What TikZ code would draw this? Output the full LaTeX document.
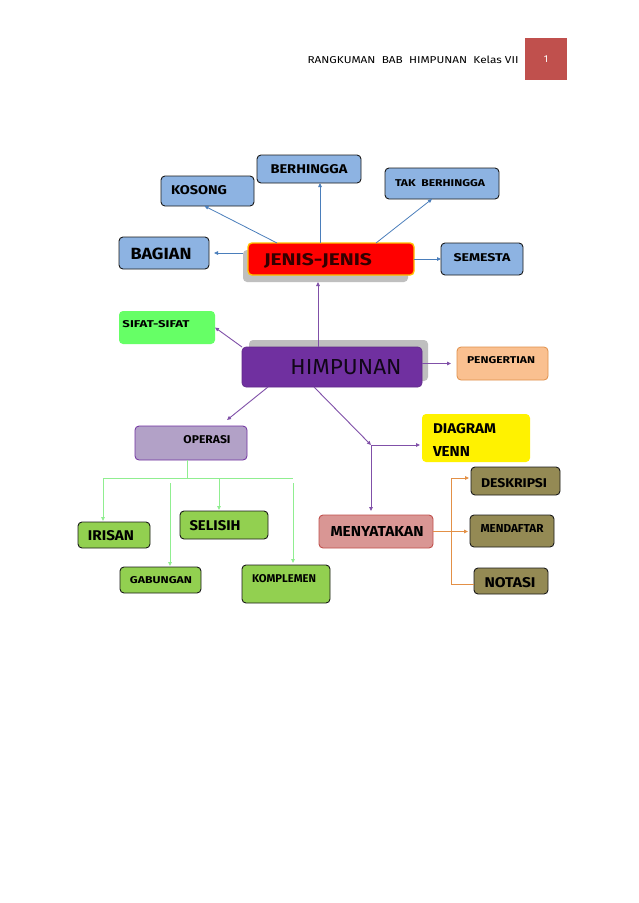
\documentclass[tikz,border=0pt]{standalone}
\usepackage{fontspec}
\setmainfont{Fira Sans}
\usetikzlibrary{arrows.meta}
\definecolor{bluebox}{HTML}{8DB3E2}
\definecolor{blueline}{HTML}{4A7EBB}
\definecolor{purpline}{HTML}{8050A8}
\definecolor{himpfill}{HTML}{7030A0}
\definecolor{shadowgray}{HTML}{BFBFBF}
\definecolor{jenisborder}{HTML}{FFC000}
\definecolor{sifatfill}{HTML}{66FF66}
\definecolor{pengfill}{HTML}{FAC090}
\definecolor{pengborder}{HTML}{E0904A}
\definecolor{opfill}{HTML}{B2A1C7}
\definecolor{olivefill}{HTML}{948A54}
\definecolor{menyfill}{HTML}{D99694}
\definecolor{menyborder}{HTML}{C0504D}
\definecolor{greenfill}{HTML}{92D050}
\definecolor{greenline}{HTML}{90EE90}
\definecolor{orangeline}{HTML}{E39046}
\definecolor{pagered}{HTML}{C0504D}
\definecolor{darkborder}{HTML}{1A1A1A}
\newcommand{\tx}[3]{\resizebox{#1pt}{#2pt}{\bfseries #3}}
\newcommand{\txn}[3]{\resizebox{#1pt}{#2pt}{#3}}
\newcommand{\bx}[6]{\node[boxbase,#6,minimum width={(#4-#2)*1pt},minimum height={(#5-#3)*1pt}] (#1) at ({(#2+#4)/2},{(#3+#5)/2}) {};}
\begin{document}
\begin{tikzpicture}[x=1pt,y=-1pt,
  boxbase/.style={rectangle,rounded corners=4pt,inner sep=0pt,outer sep=0pt},
  bluestyle/.style={fill=bluebox,draw=darkborder,line width=0.9pt},
  olivestyle/.style={fill=olivefill,draw=darkborder,line width=0.9pt},
  greenstyle/.style={fill=greenfill,draw=darkborder,line width=0.9pt},
  lbl/.style={inner sep=0pt,outer sep=0pt,text=black},
  tip/.style={-{Triangle[length=4pt,width=3.5pt]}},
  bluecon/.style={draw=blueline,line width=0.8pt},
  purpcon/.style={draw=purpline,line width=0.9pt},
  greencon/.style={draw=greenline,line width=0.9pt},
  orangecon/.style={draw=orangeline,line width=0.9pt}]
\fill[white] (0,0) rectangle (638,903);
\useasboundingbox (0,0) rectangle (638,903);

% header
\node[lbl] (hdr) at (413,60) {\txn{211}{7.5}{RANGKUMAN\ \ BAB\ \ HIMPUNAN\ \ Kelas VII}};
\node[rectangle,fill=pagered,minimum width=42pt,minimum height=42pt,inner sep=0pt] (pg) at (546,59) {\color{white}\fontsize{10}{10}\selectfont 1};

% shadows
\bx{jenisshadow}{243}{250}{408}{282}{fill=shadowgray}
\bx{himpshadow}{249}{340}{428}{381}{fill=shadowgray}

% boxes
\bx{berhingga}{257}{155}{361}{183}{bluestyle}
\bx{kosong}{161}{176}{254}{206}{bluestyle}
\bx{tak}{385}{168}{499}{199}{bluestyle}
\bx{bagian}{119}{237}{209}{269}{bluestyle}
\bx{jenis}{248}{243}{414}{275}{fill=red,draw=jenisborder,line width=1.4pt}
\bx{semesta}{441}{243}{523}{275}{bluestyle}
\bx{sifat}{119}{311}{215}{344}{fill=sifatfill}
\bx{himp}{242}{347}{422}{387}{fill=himpfill,draw=himpfill!85!black,line width=0.6pt}
\bx{pengertian}{457}{347}{548}{380}{fill=pengfill,draw=pengborder,line width=0.8pt}
\bx{operasi}{135}{426}{247}{460}{fill=opfill,draw=himpfill,line width=0.8pt}
\bx{diagram}{422}{414}{530}{462}{fill=yellow}
\bx{deskripsi}{471}{467}{560}{495}{olivestyle}
\bx{mendaftar}{470}{515}{554}{547}{olivestyle}
\bx{notasi}{474}{568}{548}{594}{olivestyle}
\bx{menyatakan}{319}{515}{433}{548}{fill=menyfill,draw=menyborder,line width=0.9pt}
\bx{irisan}{78}{522}{150}{548}{greenstyle}
\bx{selisih}{180}{511}{268}{539}{greenstyle}
\bx{gabungan}{120}{567}{201}{593}{greenstyle}
\bx{komplemen}{242}{565}{330}{603}{greenstyle}

% labels
\node[lbl] (berhingga-t) at (309,169) {\tx{77}{9}{BERHINGGA}};
\node[lbl] (kosong-t) at (199,190) {\tx{56}{9}{KOSONG}};
\node[lbl] (tak-t) at (440,183) {\tx{90}{7}{TAK\ \ BERHINGGA}};
\node[lbl] (bagian-t) at (161,254) {\tx{61}{11.5}{BAGIAN}};
\node[lbl,text=black!80!red] (jenis-t) at (318,261) {\tx{108}{12}{JENIS-JENIS}};
\node[lbl] (semesta-t) at (482,258) {\tx{57}{8}{SEMESTA}};
\node[lbl] (sifat-t) at (156,324) {\tx{67}{7}{SIFAT-SIFAT}};
\node[lbl,text=black!85!himpfill] (himp-t) at (346,367) {\txn{111}{15}{HIMPUNAN}};
\node[lbl] (pengertian-t) at (501,360) {\tx{68}{7}{PENGERTIAN}};
\node[lbl] (operasi-t) at (207,440) {\tx{47}{8}{OPERASI}};
\node[lbl,anchor=west] (diagram-t1) at (433,429) {\tx{63}{10}{DIAGRAM}};
\node[lbl,anchor=west] (diagram-t2) at (433,451) {\tx{37}{10}{VENN}};
\node[lbl] (deskripsi-t) at (514,483) {\tx{66}{9}{DESKRIPSI}};
\node[lbl] (mendaftar-t) at (512,528) {\tx{63}{8}{MENDAFTAR}};
\node[lbl] (notasi-t) at (510,583) {\tx{51}{10}{NOTASI}};
\node[lbl] (menyatakan-t) at (377,531) {\tx{93}{10}{MENYATAKAN}};
\node[lbl] (irisan-t) at (111,536) {\tx{46}{10}{IRISAN}};
\node[lbl] (selisih-t) at (215,526) {\tx{51}{10}{SELISIH}};
\node[lbl] (gabungan-t) at (161,580) {\tx{62}{7}{GABUNGAN}};
\node[lbl] (komplemen-t) at (284,579) {\tx{64}{8}{KOMPLEMEN}};

% blue connectors from JENIS-JENIS
\draw[bluecon,tip] ([xshift=29pt]jenis.north west) -- ([xshift=-3pt]kosong.south);
\draw[bluecon,tip] ([xshift=72pt]jenis.north west) -- ([xshift=63pt]berhingga.south west);
\draw[bluecon,tip] ([xshift=128pt]jenis.north west) -- ([xshift=47pt]tak.south west);
\draw[bluecon,tip] (bagian.east -| jenisshadow.west) -- ([xshift=5pt]bagian.east);
\draw[bluecon,tip] (jenis.east |- semesta.west) -- (semesta.west);

% purple connectors from HIMPUNAN
\coordinate (h1) at ([xshift=76pt]himp.north west);
\draw[purpcon,tip] (h1) -- (h1 |- jenisshadow.south);
\draw[purpcon,tip] (himp.north west) -- (sifat.east);
\draw[purpcon,tip] (himp.east |- pengertian.west) -- ([xshift=-6pt]pengertian.west);
\draw[purpcon,tip] ([xshift=26pt]himp.south west) -- ([xshift=92pt,yshift=6pt]operasi.north west);
\coordinate (junc) at (371,445);
\draw[purpcon,tip] ([xshift=72pt]himp.south west) -- (junc);
\draw[purpcon,tip,shorten >=2pt] (junc) -- (junc -| diagram.west);
\draw[purpcon,tip,shorten >=4pt] (junc) -- (junc |- menyatakan.north);

% green tree from OPERASI
\coordinate (oM) at (187,478);
\coordinate (oL) at (103,478);
\coordinate (oR) at (293,478);
\coordinate (oS) at (219,478);
\coordinate (oG) at (170,483);
\coordinate (oK) at (293,483);
\draw[greencon] (oM |- operasi.south) -- (oM);
\draw[greencon] (oL) -- (oR);
\draw[greencon,tip,shorten >=1pt] (oL) -- (oL |- irisan.north);
\draw[greencon,tip,shorten >=1pt] (oS) -- (oS |- selisih.north);
\draw[greencon,tip,shorten >=1pt] (oG) -- (oG |- gabungan.north);
\draw[greencon,tip,shorten >=2pt] (oK) -- (oK |- komplemen.north);

% orange tree from MENYATAKAN
\coordinate (mT) at (451,478);
\coordinate (mB) at (451,584);
\draw[orangecon,tip,shorten >=2pt] (menyatakan.east) -- (menyatakan.east -| mendaftar.west);
\draw[orangecon] (mT) -- (mB);
\draw[orangecon,tip,shorten >=2pt] (mT) -- (mT -| deskripsi.west);
\draw[orangecon] (mB) -- (mB -| notasi.west);
\end{tikzpicture}
\end{document}
